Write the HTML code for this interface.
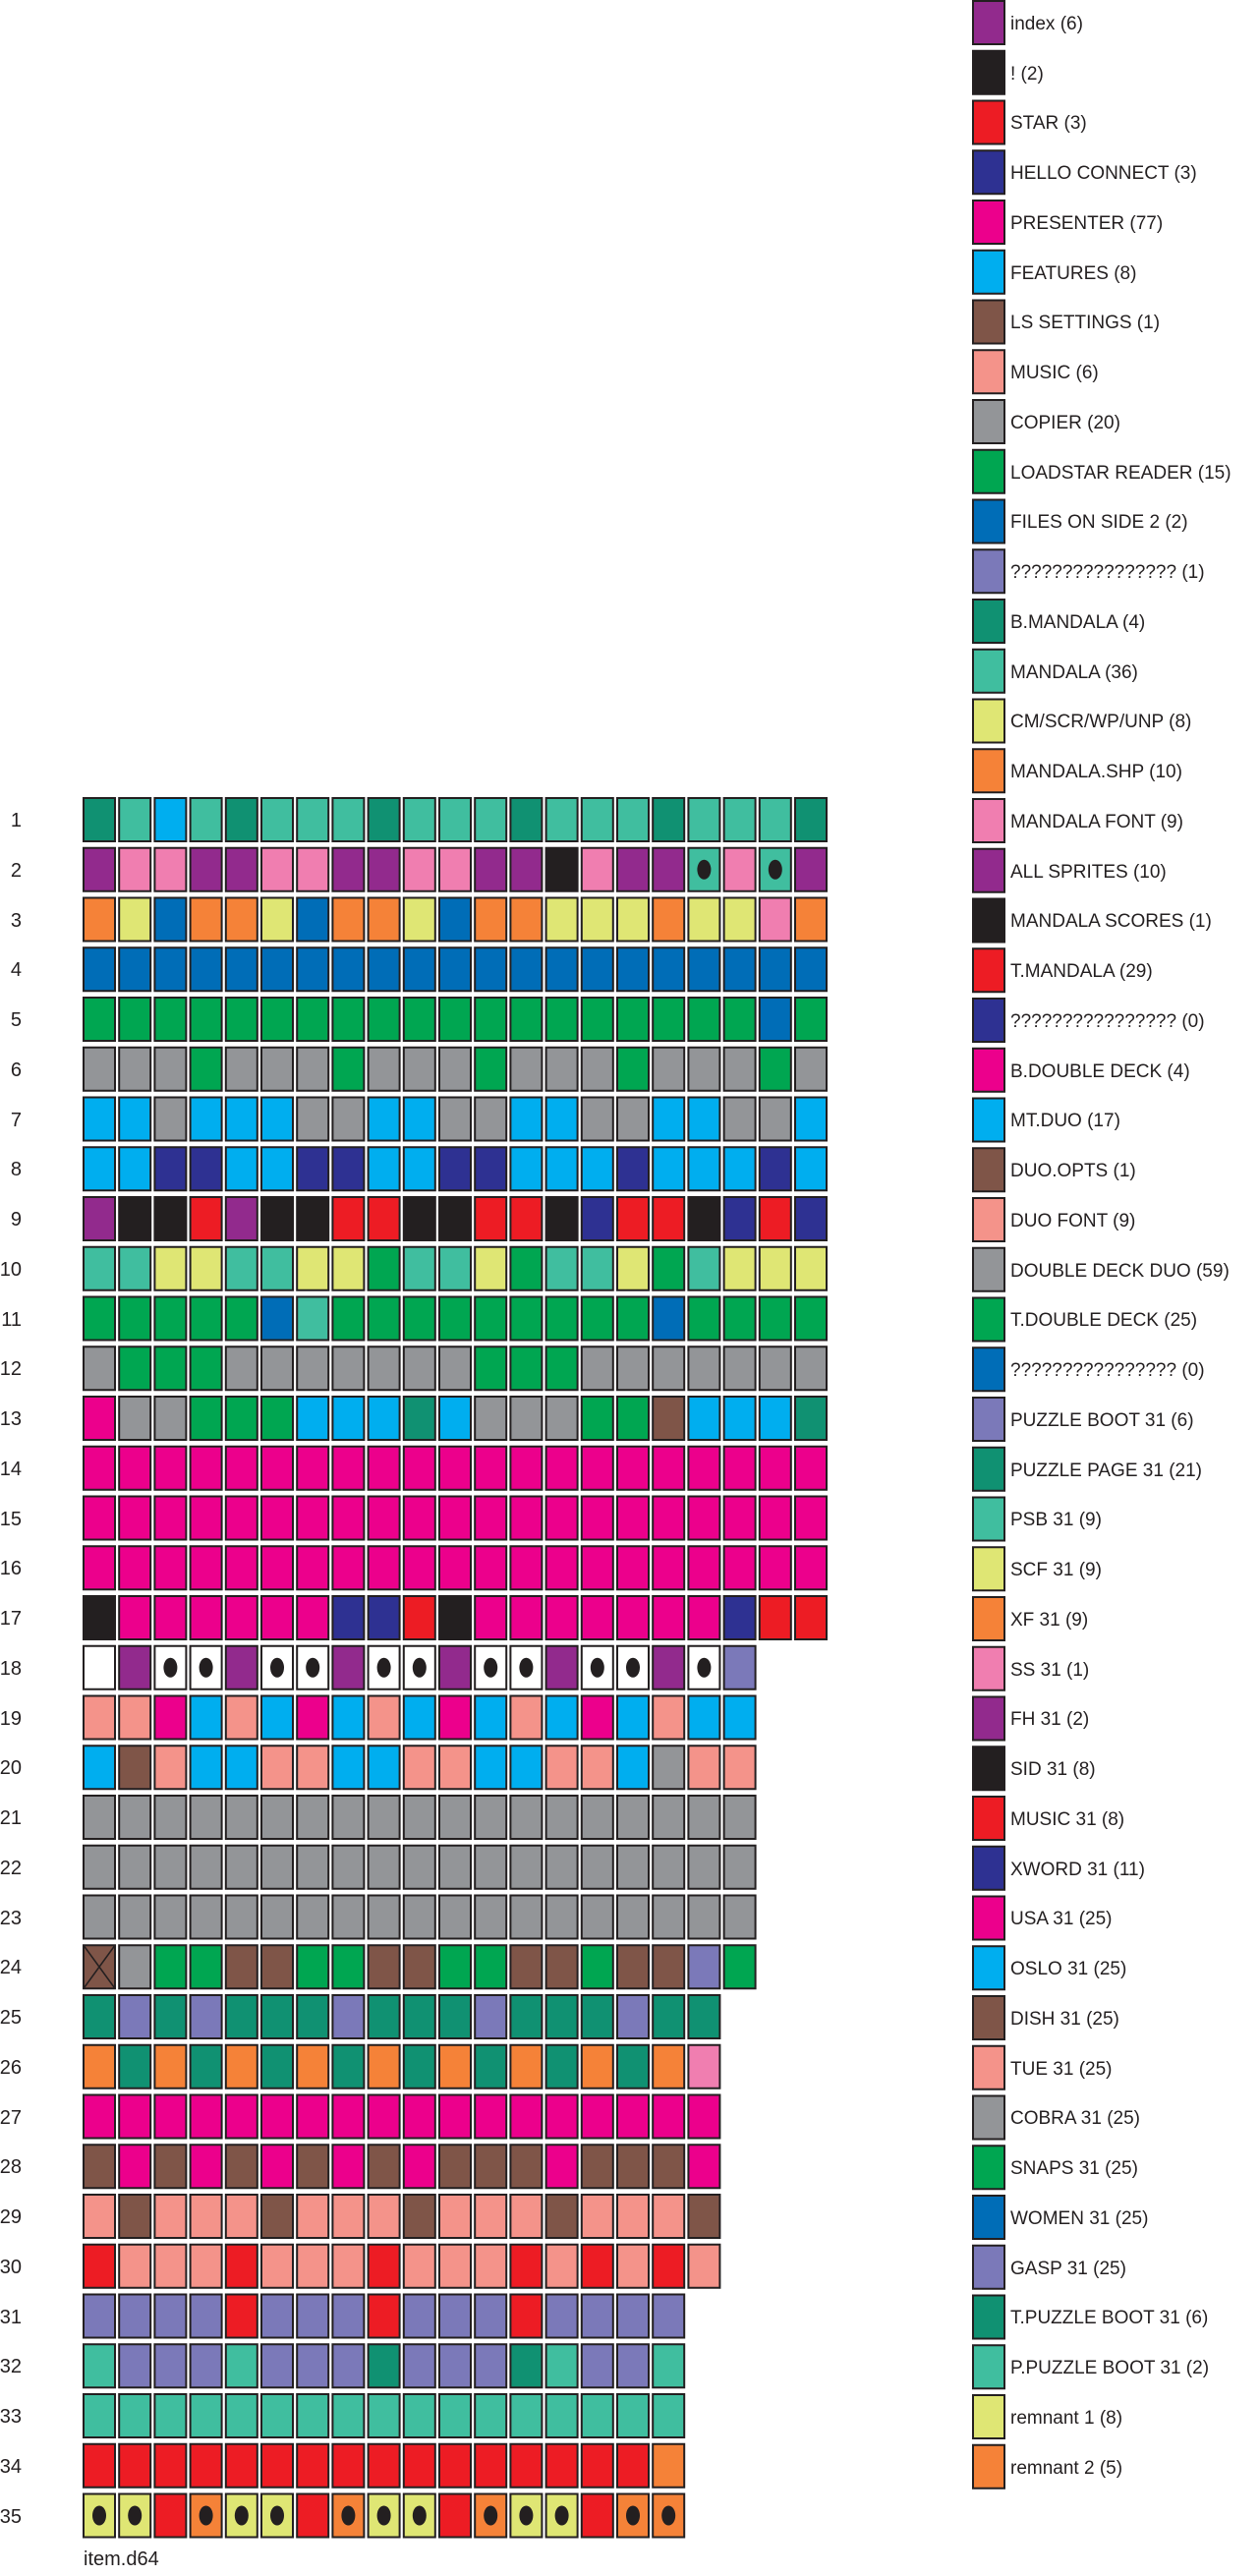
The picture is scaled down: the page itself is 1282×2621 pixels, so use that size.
<!DOCTYPE html>
<html><head><meta charset="utf-8"><style>
html,body{margin:0;padding:0;background:#fff;}
svg{display:block;}
text{font-family:"Liberation Sans",sans-serif;fill:#231f20;}
</style></head><body>
<svg id="s" width="1282" height="2621" viewBox="0 0 1282 2621" xmlns="http://www.w3.org/2000/svg">
<g id="cells"></g>
<g font-size="20" text-anchor="end">
<text x="22" y="841">1</text><text x="22" y="892">2</text><text x="22" y="943">3</text><text x="22" y="993">4</text><text x="22" y="1044">5</text>
<text x="22" y="1095">6</text><text x="22" y="1146">7</text><text x="22" y="1196">8</text><text x="22" y="1247">9</text><text x="22" y="1298">10</text>
<text x="22" y="1349">11</text><text x="22" y="1399">12</text><text x="22" y="1450">13</text><text x="22" y="1501">14</text><text x="22" y="1552">15</text>
<text x="22" y="1602">16</text><text x="22" y="1653">17</text><text x="22" y="1704">18</text><text x="22" y="1755">19</text><text x="22" y="1805">20</text>
<text x="22" y="1856">21</text><text x="22" y="1907">22</text><text x="22" y="1958">23</text><text x="22" y="2008">24</text><text x="22" y="2059">25</text>
<text x="22" y="2110">26</text><text x="22" y="2161">27</text><text x="22" y="2211">28</text><text x="22" y="2262">29</text><text x="22" y="2313">30</text>
<text x="22" y="2364">31</text><text x="22" y="2414">32</text><text x="22" y="2465">33</text><text x="22" y="2516">34</text><text x="22" y="2567">35</text>
</g>
<text x="85" y="2610" font-size="20">item.d64</text>
<g id="leg" font-size="19">
<text x="1028" y="30">index (6)</text>
<text x="1028" y="81">! (2)</text>
<text x="1028" y="131">STAR (3)</text>
<text x="1028" y="182">HELLO CONNECT (3)</text>
<text x="1028" y="233">PRESENTER (77)</text>
<text x="1028" y="284">FEATURES (8)</text>
<text x="1028" y="334">LS SETTINGS (1)</text>
<text x="1028" y="385">MUSIC (6)</text>
<text x="1028" y="436">COPIER (20)</text>
<text x="1028" y="487">LOADSTAR READER (15)</text>
<text x="1028" y="537">FILES ON SIDE 2 (2)</text>
<text x="1028" y="588">???????????????? (1)</text>
<text x="1028" y="639">B.MANDALA (4)</text>
<text x="1028" y="690">MANDALA (36)</text>
<text x="1028" y="740">CM/SCR/WP/UNP (8)</text>
<text x="1028" y="791">MANDALA.SHP (10)</text>
<text x="1028" y="842">MANDALA FONT (9)</text>
<text x="1028" y="893">ALL SPRITES (10)</text>
<text x="1028" y="943">MANDALA SCORES (1)</text>
<text x="1028" y="994">T.MANDALA (29)</text>
<text x="1028" y="1045">???????????????? (0)</text>
<text x="1028" y="1096">B.DOUBLE DECK (4)</text>
<text x="1028" y="1146">MT.DUO (17)</text>
<text x="1028" y="1197">DUO.OPTS (1)</text>
<text x="1028" y="1248">DUO FONT (9)</text>
<text x="1028" y="1299">DOUBLE DECK DUO (59)</text>
<text x="1028" y="1349">T.DOUBLE DECK (25)</text>
<text x="1028" y="1400">???????????????? (0)</text>
<text x="1028" y="1451">PUZZLE BOOT 31 (6)</text>
<text x="1028" y="1502">PUZZLE PAGE 31 (21)</text>
<text x="1028" y="1552">PSB 31 (9)</text>
<text x="1028" y="1603">SCF 31 (9)</text>
<text x="1028" y="1654">XF 31 (9)</text>
<text x="1028" y="1705">SS 31 (1)</text>
<text x="1028" y="1755">FH 31 (2)</text>
<text x="1028" y="1806">SID 31 (8)</text>
<text x="1028" y="1857">MUSIC 31 (8)</text>
<text x="1028" y="1908">XWORD 31 (11)</text>
<text x="1028" y="1958">USA 31 (25)</text>
<text x="1028" y="2009">OSLO 31 (25)</text>
<text x="1028" y="2060">DISH 31 (25)</text>
<text x="1028" y="2111">TUE 31 (25)</text>
<text x="1028" y="2161">COBRA 31 (25)</text>
<text x="1028" y="2212">SNAPS 31 (25)</text>
<text x="1028" y="2263">WOMEN 31 (25)</text>
<text x="1028" y="2314">GASP 31 (25)</text>
<text x="1028" y="2364">T.PUZZLE BOOT 31 (6)</text>
<text x="1028" y="2415">P.PUZZLE BOOT 31 (2)</text>
<text x="1028" y="2466">remnant 1 (8)</text>
<text x="1028" y="2517">remnant 2 (5)</text>
</g>
</svg>
<script>
var C={P:"#922a8d",K:"#231f20",R:"#ed1c24",N:"#2e3192",M:"#ec008c",C:"#00aeef",B:"#7f5548",S:"#f4938a",G:"#939598",E:"#00a651",U:"#006db7",L:"#7b79b9",D:"#109172",T:"#40be9f",Y:"#dfe674",O:"#f58238",I:"#f07eb0",W:"#ffffff"};
var rows=[
"D T C T D T T T D T T T D T T T D T T T D",
"P I I P P I I P P I I P P K I P P T. I T. P",
"O Y U O O Y U O O Y U O O Y Y Y O Y Y I O",
"U U U U U U U U U U U U U U U U U U U U U",
"E E E E E E E E E E E E E E E E E E E U E",
"G G G E G G G E G G G E G G G E G G G E G",
"C C G C C C G G C C G G C C G G C C G G C",
"C C N N C C N N C C N N C C C N C C C N C",
"P K K R P K K R R K K R R K N R R K N R N",
"T T Y Y T T Y Y E T T Y E T T Y E T Y Y Y",
"E E E E E U T E E E E E E E E E U E E E E",
"G E E E G G G G G G G E E E G G G G G G G",
"M G G E E E C C C D C G G G E E B C C C D",
"M M M M M M M M M M M M M M M M M M M M M",
"M M M M M M M M M M M M M M M M M M M M M",
"M M M M M M M M M M M M M M M M M M M M M",
"K M M M M M M N N R K M M M M M M M N R R",
"W P W. W. P W. W. P W. W. P W. W. P W. W. P W. L",
"S S M C S C M C S C M C S C M C S C C",
"C B S C C S S C C S S C C S S C G S S",
"G G G G G G G G G G G G G G G G G G G",
"G G G G G G G G G G G G G G G G G G G",
"G G G G G G G G G G G G G G G G G G G",
"BX G E E B B E E B B E E B B E B B L E",
"D L D L D D D L D D D L D D D L D D",
"O D O D O D O D O D O D O D O D O I",
"M M M M M M M M M M M M M M M M M M",
"B M B M B M B M B M B B B M B B B M",
"S B S S S B S S S B S S S B S S S B",
"R S S S R S S S R S S S R S R S R S",
"L L L L R L L L R L L L R L L L L",
"T L L L T L L L D L L L D T L L T",
"T T T T T T T T T T T T T T T T T",
"R R R R R R R R R R R R R R R R O",
"Y. Y. R O. Y. Y. R O. Y. Y. R O. Y. Y. R O. O."];
var leg="PKRNMCBSGEULDTYOIPKRNMCBSGEULDTYOIPKRNMCBSGEULDTYO";
var h="";
function rect(x,y,w,hh,f){return '<rect x="'+x+'" y="'+y+'" width="'+w+'" height="'+hh+'" fill="'+f+'" stroke="#231f20" stroke-width="2"/>';}
rows.forEach(function(r,i){var y=812+i*50.75;r.split(" ").forEach(function(t,j){var x=85+j*36.2;h+=rect(x.toFixed(2),y.toFixed(2),32,44,C[t[0]]);
if(t[1]==".")h+='<ellipse cx="'+(x+16).toFixed(2)+'" cy="'+(y+22).toFixed(2)+'" rx="7" ry="10" fill="#231f20"/>';
if(t[1]=="X")h+='<path d="M'+x+' '+y+'L'+(x+32)+' '+(y+44)+'M'+(x+32)+' '+y+'L'+x+' '+(y+44)+'" stroke="#231f20" stroke-width="1.5"/>';});});
for(var i=0;i<leg.length;i++){h+=rect(990,(1+i*50.75).toFixed(2),32,44,C[leg[i]]);}
document.getElementById("cells").innerHTML=h;
</script>
</body></html>
